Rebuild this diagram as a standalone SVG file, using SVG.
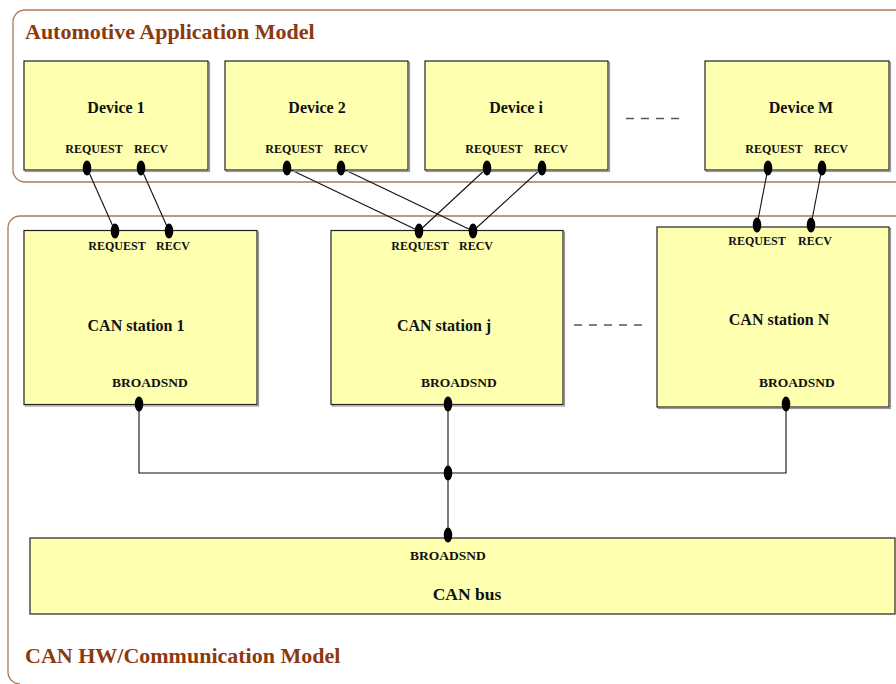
<svg xmlns="http://www.w3.org/2000/svg" width="896" height="684" viewBox="0 0 896 684">
<defs>
<style>
.cont{fill:none;stroke:#B07850;stroke-width:1.3}
.title{font-family:"Liberation Serif","Times New Roman",serif;font-weight:bold;font-size:22px;fill:#8B3A10}
.box{fill:#FFFFB0;stroke:#222;stroke-width:1.2}
.shadow{fill:none;stroke:#999;stroke-width:1.2}
.name{font-family:"Liberation Serif","Times New Roman",serif;font-weight:bold;font-size:16px;fill:#111;text-anchor:middle}
.port{font-family:"Liberation Serif","Times New Roman",serif;font-weight:bold;font-size:12px;fill:#111;text-anchor:middle}
.bport{font-family:"Liberation Serif","Times New Roman",serif;font-weight:bold;font-size:13.5px;fill:#111;text-anchor:middle}
.dot{fill:#000}
.wire{fill:none;stroke:#111;stroke-width:1.1}
.dash{fill:none;stroke:#555;stroke-width:1.3;stroke-dasharray:8 7}
</style>
</defs>
<rect width="896" height="684" fill="#fff"/>

<g id="app-model">
<path class="cont" d="M906,10 H25 A12,12 0 0 0 13,22 V170 A12,12 0 0 0 25,182 H906"/>
<text class="title" x="25" y="39">Automotive Application Model</text>
</g>
<g id="hw-model">
<path class="cont" d="M906,216 H20 A12,12 0 0 0 8,228 V672 A12,12 0 0 0 20,684"/>
<text class="title" x="25" y="663">CAN HW/Communication Model</text>
</g>

<g id="connectors">
<line class="wire" x1="87" y1="168" x2="115" y2="231"/>
<line class="wire" x1="141" y1="168" x2="169" y2="231"/>
<line class="wire" x1="287" y1="168" x2="419" y2="231"/>
<line class="wire" x1="341" y1="168" x2="473" y2="231"/>
<line class="wire" x1="487" y1="168" x2="419" y2="231"/>
<line class="wire" x1="542" y1="168" x2="473" y2="231"/>
<line class="wire" x1="768" y1="168" x2="757" y2="225"/>
<line class="wire" x1="822" y1="168" x2="811" y2="225"/>
<polyline class="wire" points="139,404 139,473 786,473 786,404"/>
<line class="wire" x1="448" y1="404" x2="448" y2="536"/>
<ellipse class="dot" cx="448" cy="473" rx="4.3" ry="7.5"/>
<line class="dash" x1="626" y1="118.5" x2="680" y2="118.5"/>
<line class="dash" x1="574" y1="325" x2="645" y2="325"/>
</g>

<g id="device-1">
<rect class="shadow" x="25.5" y="62.5" width="184" height="109"/>
<rect class="box" x="24" y="61" width="184" height="109"/>
<text class="name" x="116" y="113">Device 1</text>
<text class="port" x="94" y="153">REQUEST</text>
<text class="port" x="151" y="153">RECV</text>
<ellipse class="dot" cx="87" cy="168" rx="4.3" ry="7.5"/>
<ellipse class="dot" cx="141" cy="168" rx="4.3" ry="7.5"/>
</g>
<g id="device-2">
<rect class="shadow" x="226.5" y="62.5" width="183" height="109"/>
<rect class="box" x="225" y="61" width="183" height="109"/>
<text class="name" x="317" y="113">Device 2</text>
<text class="port" x="294" y="153">REQUEST</text>
<text class="port" x="351" y="153">RECV</text>
<ellipse class="dot" cx="287" cy="168" rx="4.3" ry="7.5"/>
<ellipse class="dot" cx="341" cy="168" rx="4.3" ry="7.5"/>
</g>
<g id="device-i">
<rect class="shadow" x="426.5" y="62.5" width="183" height="109"/>
<rect class="box" x="425" y="61" width="183" height="109"/>
<text class="name" x="516" y="113">Device i</text>
<text class="port" x="494" y="153">REQUEST</text>
<text class="port" x="551" y="153">RECV</text>
<ellipse class="dot" cx="487" cy="168" rx="4.3" ry="7.5"/>
<ellipse class="dot" cx="542" cy="168" rx="4.3" ry="7.5"/>
</g>
<g id="device-m">
<rect class="shadow" x="706.5" y="62.5" width="184" height="109"/>
<rect class="box" x="705" y="61" width="184" height="109"/>
<text class="name" x="801" y="113">Device M</text>
<text class="port" x="774" y="153">REQUEST</text>
<text class="port" x="831" y="153">RECV</text>
<ellipse class="dot" cx="768" cy="168" rx="4.3" ry="7.5"/>
<ellipse class="dot" cx="822" cy="168" rx="4.3" ry="7.5"/>
</g>

<g id="can-station-1">
<rect class="shadow" x="25.5" y="232" width="233" height="174"/>
<rect class="box" x="24" y="230.5" width="233" height="174"/>
<text class="port" x="117" y="250">REQUEST</text>
<text class="port" x="173" y="250">RECV</text>
<text class="name" x="136" y="331">CAN station 1</text>
<text class="bport" x="150" y="387">BROADSND</text>
<ellipse class="dot" cx="115" cy="231" rx="4.3" ry="7.5"/>
<ellipse class="dot" cx="169" cy="231" rx="4.3" ry="7.5"/>
<ellipse class="dot" cx="139" cy="404" rx="4.3" ry="7.5"/>
</g>
<g id="can-station-j">
<rect class="shadow" x="332.5" y="232" width="232" height="174"/>
<rect class="box" x="331" y="230.5" width="232" height="174"/>
<text class="port" x="420" y="250">REQUEST</text>
<text class="port" x="476" y="250">RECV</text>
<text class="name" x="444" y="331">CAN station j</text>
<text class="bport" x="459" y="387">BROADSND</text>
<ellipse class="dot" cx="419" cy="231" rx="4.3" ry="7.5"/>
<ellipse class="dot" cx="473" cy="231" rx="4.3" ry="7.5"/>
<ellipse class="dot" cx="448" cy="404" rx="4.3" ry="7.5"/>
</g>
<g id="can-station-n">
<rect class="shadow" x="658.5" y="228.5" width="232" height="180"/>
<rect class="box" x="657" y="227" width="232" height="180"/>
<text class="port" x="757" y="245">REQUEST</text>
<text class="port" x="815" y="245">RECV</text>
<text class="name" x="779" y="325">CAN station N</text>
<text class="bport" x="797" y="387">BROADSND</text>
<ellipse class="dot" cx="757" cy="225" rx="4.3" ry="7.5"/>
<ellipse class="dot" cx="811" cy="225" rx="4.3" ry="7.5"/>
<ellipse class="dot" cx="786" cy="404" rx="4.3" ry="7.5"/>
</g>

<g id="can-bus">
<rect class="box" x="30" y="538" width="865" height="76"/>
<text class="bport" x="448" y="560">BROADSND</text>
<text class="name" x="467" y="600" style="font-size:17.5px">CAN bus</text>
<ellipse class="dot" cx="448" cy="535" rx="4.3" ry="7.5"/>
</g>
</svg>
